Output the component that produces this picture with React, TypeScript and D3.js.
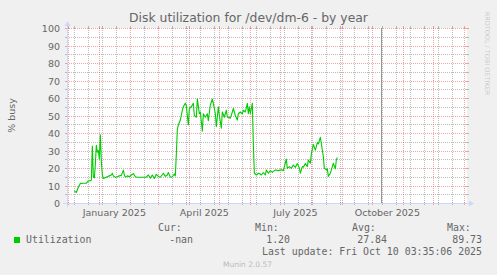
import React from 'react';
import * as d3 from 'd3';

const W = 497;
const H = 275;

const dates = [
  '2024-12-07','2024-12-09','2024-12-11','2024-12-13','2024-12-16','2024-12-19','2024-12-21','2024-12-23','2024-12-24','2024-12-25',
  '2024-12-26','2024-12-27','2024-12-28','2024-12-29','2024-12-30','2024-12-31','2025-01-01','2025-01-02','2025-01-03','2025-01-04',
  '2025-01-05','2025-01-07','2025-01-09','2025-01-11','2025-01-13','2025-01-14','2025-01-15','2025-01-17','2025-01-19','2025-01-21',
  '2025-01-23','2025-01-25','2025-01-26','2025-01-27','2025-01-29','2025-01-31','2025-02-02','2025-02-04','2025-02-06','2025-02-08',
  '2025-02-11','2025-02-14','2025-02-17','2025-02-19','2025-02-21','2025-02-23','2025-02-25','2025-02-27','2025-03-01','2025-03-03',
  '2025-03-06','2025-03-08','2025-03-10','2025-03-11','2025-03-13','2025-03-15','2025-03-17','2025-03-18','2025-03-19','2025-03-20',
  '2025-03-21','2025-03-23','2025-03-25','2025-03-26','2025-03-28','2025-03-29','2025-03-31','2025-04-01','2025-04-03','2025-04-05',
  '2025-04-06','2025-04-08','2025-04-09','2025-04-11','2025-04-12','2025-04-14','2025-04-15','2025-04-17','2025-04-19','2025-04-20',
  '2025-04-22','2025-04-24','2025-04-25','2025-04-27','2025-04-28','2025-04-30','2025-05-01','2025-05-03','2025-05-04','2025-05-06',
  '2025-05-08','2025-05-09','2025-05-10','2025-05-12','2025-05-14','2025-05-15','2025-05-17','2025-05-19','2025-05-20','2025-05-22',
  '2025-05-24','2025-05-25','2025-05-27','2025-05-29','2025-05-30','2025-05-31','2025-06-01','2025-06-03','2025-06-04','2025-06-05',
  '2025-06-07','2025-06-09','2025-06-11','2025-06-12','2025-06-14','2025-06-16','2025-06-17','2025-06-19','2025-06-21','2025-06-23',
  '2025-06-26','2025-06-29','2025-07-02','2025-07-04','2025-07-07','2025-07-08','2025-07-10','2025-07-12','2025-07-14','2025-07-16',
  '2025-07-18','2025-07-20','2025-07-21','2025-07-23','2025-07-24','2025-07-26','2025-07-28','2025-07-29','2025-07-31','2025-08-01',
  '2025-08-03','2025-08-05','2025-08-07','2025-08-08','2025-08-10','2025-08-11','2025-08-13','2025-08-14','2025-08-16','2025-08-17',
  '2025-08-18','2025-08-20','2025-08-22','2025-08-23','2025-08-25','2025-08-26','2025-08-27',
];

const values = [
  6.9, 6.0, 9.0, 11.2, 11.3, 11.3, 12.6, 12.8, 13, 32.5,
  15, 14.3, 22, 33, 29, 30, 25, 39, 24, 16,
  14, 14.5, 15, 15.5, 16, 17, 15.5, 14.7, 15, 15.5,
  15.8, 18.8, 16, 14.8, 15.5, 15, 16, 16.8, 15, 14.7,
  14.7, 14.7, 14.8, 16, 14.2, 16, 14, 16.4, 15.2, 14.7,
  17, 15.2, 16, 17.4, 14.8, 15, 16.6, 15.5, 28, 42,
  44.6, 47.4, 53, 55, 57, 55.5, 44.6, 54, 55, 57,
  50, 49, 59.5, 51, 52, 41, 51, 49, 51, 47,
  56, 59.4, 57, 51, 43.6, 55, 50, 42.7, 52, 49,
  53, 49, 49, 48.5, 52, 54, 50, 47.4, 51, 52,
  51, 53, 52, 57, 51, 55, 51, 57, 34, 17,
  16, 17, 16.5, 16, 17.3, 16, 18.9, 17, 18.5, 17.5,
  18.9, 18.5, 19, 18.5, 25, 19.8, 20.8, 19.8, 21.7, 20.4,
  22.5, 20, 17, 20.8, 20.5, 22.5, 20.8, 24.6, 22.7, 28,
  33.5, 30.2, 34.5, 33.8, 37.5, 34, 26.5, 19.8, 18.9, 19.5,
  15.2, 17, 20.8, 22.7, 19.5, 24.6, 26,
];

const yTicks = [0, 10, 20, 30, 40, 50, 60, 70, 80, 90, 100];
const yMinorTicks = [5, 15, 25, 35, 45, 55, 65, 75, 85, 95];
const xLabels = ['January 2025', 'April 2025', 'July 2025', 'October 2025'];
const xLabelDates = ['2025-01-16', '2025-04-16', '2025-07-16', '2025-10-16'];
const legendHeaders = ['Cur:', 'Min:', 'Avg:', 'Max:'];
const legendValues = ['-nan', '1.20', '27.84', '89.73'];
const seriesName = 'Utilization';
const lastUpdate = 'Last update: Fri Oct 10 03:35:06 2025';
const nowDate = '2025-10-10T03:35:06Z';

const X0 = 67;
const X1 = 467;
const Y0 = 203;
const Y1 = 28;

const FONT = '#666666';
const GRID = 'rgba(143,143,143,0.6)';
const MGRID = 'rgba(222,79,79,0.5)';
const AXIS = '#CFD6F8';
const LINE = '#00CC00';

const parse = d3.utcParse('%Y-%m-%d');

export default function App() {
  const x = d3
    .scaleUtc()
    .domain([new Date(Date.UTC(2024, 10, 29, 16)), new Date(Date.UTC(2026, 0, 3, 16))])
    .range([X0, X1]);
  const y = d3.scaleLinear().domain([0, 100]).range([Y0, Y1]);

  const pts = dates.map((d, i) => ({ d: parse(d) as Date, v: values[i] }));
  const line = d3
    .line<{ d: Date; v: number }>()
    .x((p) => x(p.d))
    .y((p) => y(p.v));

  const [dStart, dEnd] = x.domain();
  const months = d3.utcMonth.range(dStart, dEnd);
  const monthPx = months.map((m) => Math.round(x(m)));
  const minor = d3.utcDay
    .range(new Date(Date.UTC(2024, 11, 8)), dEnd, 14)
    .map((m) => Math.round(x(m)) - 1)
    .filter((px) => !monthPx.includes(px) && px > X0 && px < X1);

  const hx = (px: number) => px + 0.5;
  const nowX = Math.round(x(new Date(nowDate))) + 0.5;

  const sans = 'DejaVu Sans, sans-serif';
  const mono = 'DejaVu Sans Mono, monospace';

  const colStart = [158, 255, 352, 447];
  const colEnd = [193, 290, 387, 482];

  return (
    <svg
      width={W}
      height={H}
      style={{ position: 'absolute', left: 0, top: 0, display: 'block' }}
      xmlns="http://www.w3.org/2000/svg"
    >
      <rect x={0} y={0} width={W} height={H} fill="#F0F0F0" />
      <rect x={X0} y={Y1} width={X1 - X0} height={Y0 - Y1} fill="#FFFFFF" />

      {/* horizontal minor grid */}
      {yMinorTicks.map((t) => {
        const py = Math.round(y(t)) + 0.5;
        return (
          <g key={'hm' + t}>
            <line x1={X0} x2={X1} y1={py} y2={py} stroke={GRID} strokeDasharray="1,1" />
            <line x1={X0 - 2} x2={X0 + 1} y1={py} y2={py} stroke={GRID} />
            <line x1={X1 - 1} x2={X1 + 2} y1={py} y2={py} stroke={GRID} />
          </g>
        );
      })}
      {/* vertical minor grid */}
      {minor.map((px) => (
        <g key={'vm' + px}>
          <line x1={hx(px)} x2={hx(px)} y1={Y1} y2={Y0} stroke={GRID} strokeDasharray="1,1" />
          <line x1={hx(px)} x2={hx(px)} y1={Y0 - 1} y2={Y0 + 2} stroke={GRID} />
          <line x1={hx(px)} x2={hx(px)} y1={Y1 - 2} y2={Y1 + 1} stroke={GRID} />
        </g>
      ))}
      {/* horizontal major grid */}
      {yTicks.map((t) => {
        const py = Math.round(y(t)) + 0.5;
        return (
          <g key={'hM' + t}>
            <line x1={X0} x2={X1} y1={py} y2={py} stroke={MGRID} strokeDasharray="1,1" />
            <line x1={X0 - 2} x2={X0 + 1} y1={py} y2={py} stroke={MGRID} />
            <line x1={X1 - 1} x2={X1 + 2} y1={py} y2={py} stroke={MGRID} />
          </g>
        );
      })}
      {/* vertical major grid */}
      {monthPx
        .filter((px) => px >= X0 && px <= X1)
        .map((px) => (
          <g key={'vM' + px}>
            <line x1={hx(px)} x2={hx(px)} y1={Y1} y2={Y0} stroke={MGRID} strokeDasharray="1,1" />
            <line x1={hx(px)} x2={hx(px)} y1={Y0 - 1} y2={Y0 + 2} stroke={MGRID} />
            <line x1={hx(px)} x2={hx(px)} y1={Y1 - 2} y2={Y1 + 1} stroke={MGRID} />
          </g>
        ))}

      {/* data */}
      <path d={line(pts) || ''} fill="none" stroke={LINE} strokeWidth={1.1} strokeLinejoin="round" />

      {/* now line */}
      <line x1={nowX} x2={nowX} y1={Y1} y2={Y0} stroke="#949494" strokeWidth={1} />

      {/* axes */}
      <line x1={X0 - 4} x2={X1 + 4} y1={Y0 + 0.5} y2={Y0 + 0.5} stroke={AXIS} />
      <line x1={X0 + 0.5} x2={X0 + 0.5} y1={Y0 + 4} y2={Y1 - 4} stroke={AXIS} />
      <polygon points={`${X1 + 2},${Y0 - 2.5} ${X1 + 2},${Y0 + 3.5} ${X1 + 7},${Y0 + 0.5}`} fill={AXIS} />
      <polygon points={`${X0 - 2.5},${Y1 - 2} ${X0 + 3.5},${Y1 - 2} ${X0 + 0.5},${Y1 - 7}`} fill={AXIS} />

      {/* y labels */}
      {yTicks.map((t) => (
        <text
          key={'yl' + t}
          x={60}
          y={Math.round(y(t)) + 3.5}
          textAnchor="end"
          fontFamily={sans}
          fontSize={9.5}
          fill={FONT}
        >
          {t}
        </text>
      ))}
      {/* x labels */}
      {xLabels.map((l, i) => (
        <text
          key={l}
          x={x(parse(xLabelDates[i]) as Date)}
          y={215.5}
          textAnchor="middle"
          fontFamily={sans}
          fontSize={9.5}
          fill={FONT}
        >
          {l}
        </text>
      ))}

      {/* title */}
      <text x={W / 2} y={22} textAnchor="middle" fontFamily={sans} fontSize={12.4} fill={FONT}>
        Disk utilization for /dev/dm-6 - by year
      </text>

      {/* y axis title */}
      <text
        transform={`translate(14.5, ${(Y0 + Y1) / 2}) rotate(-90)`}
        textAnchor="middle"
        fontFamily={sans}
        fontSize={9.5}
        fill={FONT}
      >
        % busy
      </text>

      {/* watermark */}
      <text
        transform={`translate(485, 53.5) rotate(90)`}
        textAnchor="middle"
        fontFamily={sans}
        fontSize={6.5}
        fill={FONT}
        fillOpacity={0.3}
      >
        RRDTOOL / TOBI OETIKER
      </text>

      {/* legend */}
      {legendHeaders.map((h, i) => (
        <text key={h} x={colStart[i]} y={231} fontFamily={mono} fontSize={9.9} fill={FONT}>
          {h}
        </text>
      ))}
      <rect x={14} y={237} width={6} height={6} fill={LINE} />
      <text x={26} y={243} fontFamily={mono} fontSize={9.9} fill={FONT}>
        {seriesName}
      </text>
      {legendValues.map((v, i) => (
        <text key={'lv' + i} x={colEnd[i]} y={243} textAnchor="end" fontFamily={mono} fontSize={9.9} fill={FONT}>
          {v}
        </text>
      ))}
      <text x={482} y={255} textAnchor="end" fontFamily={mono} fontSize={9.9} fill={FONT}>
        {lastUpdate}
      </text>
      <text x={247.5} y={266.5} textAnchor="middle" fontFamily={sans} fontSize={7.5} fill="#BBBBBB">
        Munin 2.0.57
      </text>
    </svg>
  );
}
